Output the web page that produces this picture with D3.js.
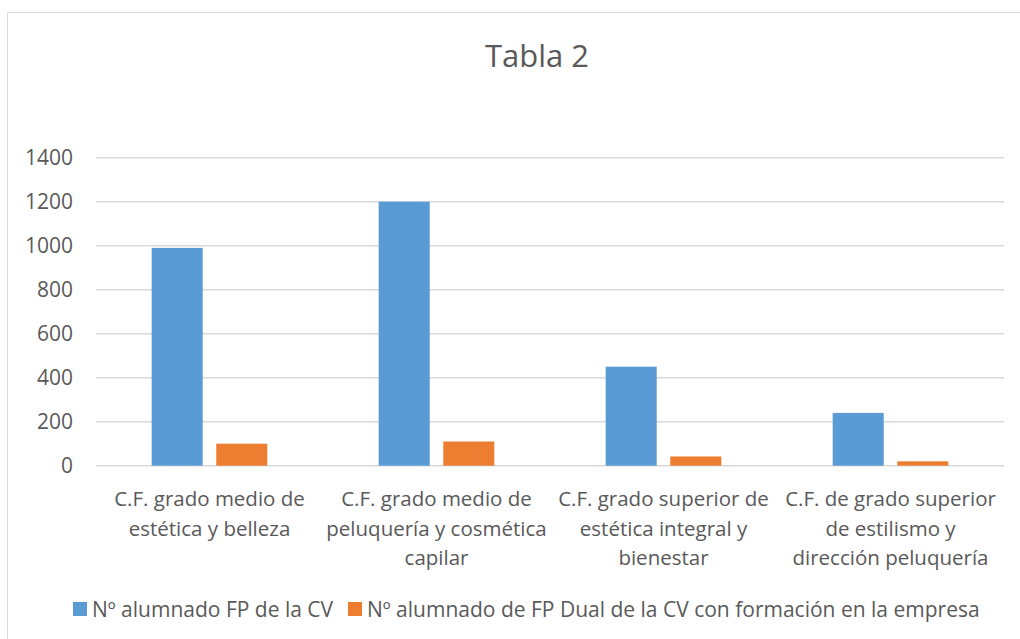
<!DOCTYPE html>
<html>
<head>
<meta charset="utf-8">
<script src="https://cdn.jsdelivr.net/npm/d3@7"></script>
<style>
  body { margin: 0; background: #fff; }
  text { font-family: "Open Sans", sans-serif; fill: #595959; }
</style>
</head>
<body>
<svg id="chart" width="1020" height="639"></svg>
<script>
// Chart data
var categories = ["cat1", "cat2", "cat3", "cat4"];
var categoryLines = [
    ["C.F. grado medio de", "estética y belleza"],
    ["C.F. grado medio de", "peluquería y cosmética", "capilar"],
    ["C.F. grado superior de", "estética integral y", "bienestar"],
    ["C.F. de grado superior", "de estilismo y", "dirección peluquería"]
];
var seriesNames = ["Nº alumnado FP de la CV", "Nº alumnado de FP Dual de la CV con formación en la empresa"];
var alumnadoFP = [990, 1200, 450, 240];
var alumnadoDual = [100, 110, 42, 20];
var yTicks = [0, 200, 400, 600, 800, 1000, 1200, 1400];
var colors = ["#5b9bd5", "#ed7d31"];

var svg = d3.select("#chart");

// chart area border
svg.append("path")
    .attr("d", "M7.5,700 V12.5 H1100")
    .attr("fill", "none")
    .attr("stroke", "#d9d9d9")
    .attr("stroke-width", 1);

svg.append("text")
    .attr("x", 537)
    .attr("y", 67)
    .attr("text-anchor", "middle")
    .style("font-size", "31px")
    .text("Tabla 2");

var left = 96, right = 1004;

var y = d3.scaleLinear()
    .domain([0, 1400])
    .range([465.7, 157.7]);

var x0 = d3.scaleBand()
    .domain(categories)
    .range([left, right]);

var x1 = d3.scaleBand()
    .domain([0, 1])
    .range([0, x0.bandwidth()])
    .paddingInner(0.21)
    .paddingOuter(0.862);

// gridlines
svg.append("g")
    .selectAll("line")
    .data(yTicks)
    .enter().append("line")
    .attr("x1", left)
    .attr("x2", right)
    .attr("y1", function(d) { return y(d); })
    .attr("y2", function(d) { return y(d); })
    .attr("stroke", "#d9d9d9")
    .attr("stroke-width", 1.4);

// y tick labels
svg.append("g")
    .selectAll("text")
    .data(yTicks)
    .enter().append("text")
    .attr("x", 73)
    .attr("y", function(d) { return y(d); })
    .attr("dy", "0.36em")
    .attr("text-anchor", "end")
    .style("font-size", "21px")
    .text(function(d) { return d; });

// bars
var series = [alumnadoFP, alumnadoDual];
series.forEach(function(values, s) {
    svg.append("g")
        .selectAll("rect")
        .data(values)
        .enter().append("rect")
        .attr("x", function(d, i) { return x0(categories[i]) + x1(s); })
        .attr("y", function(d) { return y(d); })
        .attr("width", x1.bandwidth())
        .attr("height", function(d) { return y(0) - y(d); })
        .attr("fill", colors[s]);
});

// category labels
var catLabel = svg.append("g")
    .selectAll("text")
    .data(categories)
    .enter().append("text")
    .attr("text-anchor", "middle")
    .style("font-size", "20.5px");

catLabel.each(function(d, i) {
    var cx = x0(d) + x0.bandwidth() / 2;
    d3.select(this).selectAll("tspan")
        .data(categoryLines[i])
        .enter().append("tspan")
        .attr("x", cx)
        .attr("y", function(t, j) { return 506 + j * 29.5; })
        .text(function(t) { return t; });
});

// legend
var legendX = [73, 348];
seriesNames.forEach(function(name, s) {
    svg.append("rect")
        .attr("x", legendX[s])
        .attr("y", 602)
        .attr("width", 14)
        .attr("height", 14)
        .attr("fill", colors[s]);
    svg.append("text")
        .attr("x", legendX[s] + 19)
        .attr("y", 609)
        .attr("dy", "0.36em")
        .style("font-size", "21px")
        .text(name);
});
</script>
</body>
</html>
